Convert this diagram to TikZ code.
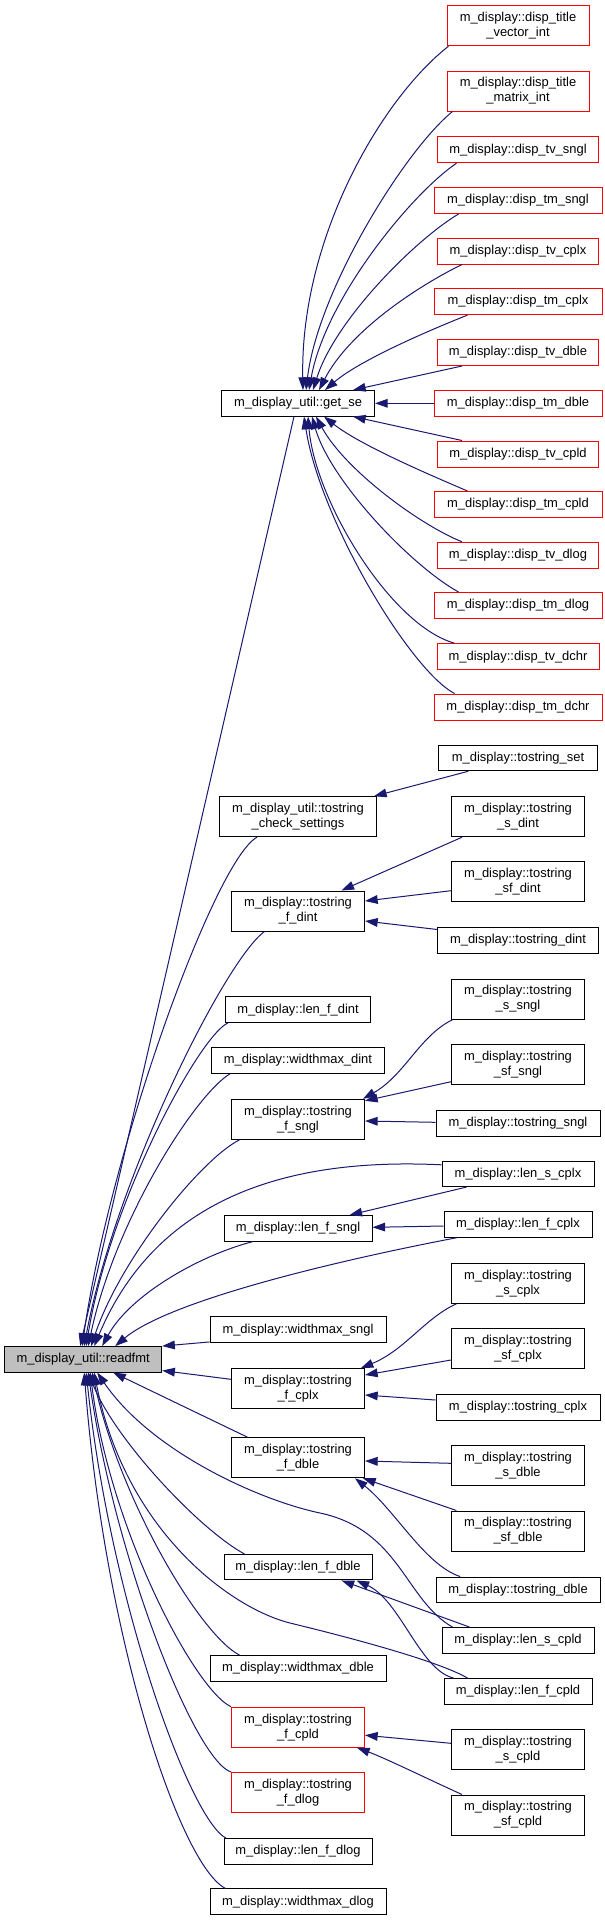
\documentclass[tikz,border=0pt]{standalone}
\usepackage{fontspec}
\newfontfamily\dfont{Liberation Sans}
\usetikzlibrary{arrows.meta,calc}
\definecolor{edgecol}{HTML}{191970}
\tikzset{
  bx/.style={draw=black, line width=0.75pt, fill=white, inner sep=0pt, align=center, text=black, font={\dfont\fontsize{9.7}{11.25}\selectfont}},
  rbx/.style={bx, draw=red},
  gbx/.style={bx, fill=gray!50},
  sz/.style 2 args={minimum width=#1*0.75pt, minimum height=#2*0.75pt},
  ed/.style={draw=edgecol, line width=0.75pt, -{Triangle[length=9.5pt,width=6.5pt]}}
}
\begin{document}
\begin{tikzpicture}[x=0.75pt,y=-0.75pt]
\useasboundingbox (0,0) rectangle (604,1921);
\fill[white] (0,0) rectangle (604,1921);
% right column: disp
\node[rbx,sz={142}{40}] (d1) at (518,25.7) {m\_display::disp\_title\\\_vector\_int};
\node[rbx,sz={142}{40}] (d2) at (518,91) {m\_display::disp\_title\\\_matrix\_int};
\node[rbx,sz={161}{26}] (d3) at (518,149.7) {m\_display::disp\_tv\_sngl};
\node[rbx,sz={168}{26}] (d4) at (518,200.5) {m\_display::disp\_tm\_sngl};
\node[rbx,sz={161}{26}] (d5) at (518,251) {m\_display::disp\_tv\_cplx};
\node[rbx,sz={168}{26}] (d6) at (518,301.6) {m\_display::disp\_tm\_cplx};
\node[rbx,sz={161}{26}] (d7) at (518,352.5) {m\_display::disp\_tv\_dble};
\node[rbx,sz={168}{26}] (d8) at (518,403.3) {m\_display::disp\_tm\_dble};
\node[rbx,sz={161}{26}] (d9) at (518,454) {m\_display::disp\_tv\_cpld};
\node[rbx,sz={168}{26}] (d10) at (518,504.5) {m\_display::disp\_tm\_cpld};
\node[rbx,sz={161}{26}] (d11) at (518,555.3) {m\_display::disp\_tv\_dlog};
\node[rbx,sz={168}{26}] (d12) at (518,605.5) {m\_display::disp\_tm\_dlog};
\node[rbx,sz={162}{26}] (d13) at (518,656.7) {m\_display::disp\_tv\_dchr};
\node[rbx,sz={168}{26}] (d14) at (518,707) {m\_display::disp\_tm\_dchr};
% main nodes
\node[bx,sz={153}{25.5}] (gs) at (298,403.3) {m\_display\_util::get\_se};
\node[gbx,sz={157}{25.5}] (rf) at (83.2,1359.3) {m\_display\_util::readfmt};
\node[bx,sz={158.4}{25.5}] (tset) at (518,758) {m\_display::tostring\_set};
\node[bx,sz={157}{40}] (chk) at (298,816.7) {m\_display\_util::tostring\\\_check\_settings};
\node[bx,sz={133}{40}] (sdint) at (518,816.7) {m\_display::tostring\\\_s\_dint};
\node[bx,sz={133}{40}] (sfdint) at (518,881.7) {m\_display::tostring\\\_sf\_dint};
\node[bx,sz={133}{40}] (fdint) at (298,911) {m\_display::tostring\\\_f\_dint};
\node[bx,sz={160.5}{25.5}] (dint) at (518,940.5) {m\_display::tostring\_dint};
\node[bx,sz={133}{40}] (ssngl) at (518,999) {m\_display::tostring\\\_s\_sngl};
\node[bx,sz={145}{25.5}] (lfdint) at (298,1009.7) {m\_display::len\_f\_dint};
\node[bx,sz={133}{40}] (sfsngl) at (518,1064.7) {m\_display::tostring\\\_sf\_sngl};
\node[bx,sz={173}{25.5}] (wdint) at (298,1060.5) {m\_display::widthmax\_dint};
\node[bx,sz={133}{40}] (fsngl) at (298,1119.3) {m\_display::tostring\\\_f\_sngl};
\node[bx,sz={164}{25.5}] (sngl) at (518,1123.3) {m\_display::tostring\_sngl};
\node[bx,sz={152}{25.5}] (lscplx) at (518,1173.8) {m\_display::len\_s\_cplx};
\node[bx,sz={148}{25.5}] (lfsngl) at (298,1228.3) {m\_display::len\_f\_sngl};
\node[bx,sz={148}{25.5}] (lfcplx) at (518,1224.5) {m\_display::len\_f\_cplx};
\node[bx,sz={133}{40}] (scplx) at (518,1283.3) {m\_display::tostring\\\_s\_cplx};
\node[bx,sz={176}{25.5}] (wsngl) at (298,1329.7) {m\_display::widthmax\_sngl};
\node[bx,sz={133}{40}] (sfcplx) at (518,1348.7) {m\_display::tostring\\\_sf\_cplx};
\node[bx,sz={133}{40}] (fcplx) at (298,1388.7) {m\_display::tostring\\\_f\_cplx};
\node[bx,sz={164}{25.5}] (cplx) at (518,1407.3) {m\_display::tostring\_cplx};
\node[bx,sz={133}{40}] (fdble) at (298,1457.7) {m\_display::tostring\\\_f\_dble};
\node[bx,sz={133}{40}] (sdble) at (518,1465.7) {m\_display::tostring\\\_s\_dble};
\node[bx,sz={133}{40}] (sfdble) at (518,1531) {m\_display::tostring\\\_sf\_dble};
\node[bx,sz={148}{25.5}] (lfdble) at (298,1567.2) {m\_display::len\_f\_dble};
\node[bx,sz={164}{25.5}] (dble) at (518,1589.8) {m\_display::tostring\_dble};
\node[bx,sz={152}{25.5}] (lscpld) at (518,1640.3) {m\_display::len\_s\_cpld};
\node[bx,sz={176}{25.5}] (wdble) at (298,1668.3) {m\_display::widthmax\_dble};
\node[bx,sz={148}{25.5}] (lfcpld) at (518,1691.3) {m\_display::len\_f\_cpld};
\node[rbx,sz={133}{40}] (fcpld) at (298,1727.2) {m\_display::tostring\\\_f\_cpld};
\node[bx,sz={133}{40}] (scpld) at (518,1749.7) {m\_display::tostring\\\_s\_cpld};
\node[rbx,sz={133}{40}] (fdlog) at (298,1792.5) {m\_display::tostring\\\_f\_dlog};
\node[bx,sz={133}{40}] (sfcpld) at (518,1815) {m\_display::tostring\\\_sf\_cpld};
\node[bx,sz={148}{25.5}] (lfdlog) at (298,1851.3) {m\_display::len\_f\_dlog};
\node[bx,sz={176}{25.5}] (wdlog) at (298,1901.7) {m\_display::widthmax\_dlog};
% edges into get_se
\draw[ed] ($(d1.south west)+(2,0)$) .. controls (380,100) and (300,240) .. ($(gs.north)+(5,0)$);
\draw[ed] ($(d2.south west)+(6,0)$) .. controls (405,150) and (318,290) .. ($(gs.north)+(8,0)$);
\draw[ed] ($(d3.south west)+(19.5,0)$) .. controls (410,195) and (325,300) .. ($(gs.north)+(11,0)$);
\draw[ed] ($(d4.south west)+(25,0)$) .. controls (415,240) and (335,320) .. ($(gs.north)+(15,0)$);
\draw[ed] ($(d5.south west)+(25,0)$) .. controls (420,285) and (350,330) .. ($(gs.north)+(21,0)$);
\draw[ed] ($(d6.south west)+(34,0)$) .. controls (430,330) and (360,360) .. ($(gs.north)+(27,0)$);
\draw[ed] ($(d7.south west)+(25,0)$) -- ($(gs.north east)+(-22,0)$);
\draw[ed] (d8) -- (gs);
\draw[ed] ($(d9.north west)+(25,0)$) -- ($(gs.south east)+(-22,0)$);
\draw[ed] ($(d10.north west)+(34,0)$) .. controls (430,475) and (360,445) .. ($(gs.south)+(26,0)$);
\draw[ed] ($(d11.north west)+(25,0)$) .. controls (420,525) and (345,470) .. ($(gs.south)+(18,0)$);
\draw[ed] ($(d12.north west)+(25,0)$) .. controls (410,565) and (330,480) .. ($(gs.south)+(14,0)$);
\draw[ed] ($(d13.north west)+(18,0)$) .. controls (390,625) and (315,500) .. ($(gs.south)+(10,0)$);
\draw[ed] ($(d14.north west)+(21,0)$) .. controls (410,670) and (320,520) .. ($(gs.south)+(6,0)$);
% edges into readfmt from above
\draw[ed] ($(gs.south)+(-4,0)$) -- ($(rf.north)+(-3,0)$);
\draw[ed] ($(chk.south west)+(38,0)$) .. controls (215,860) and (110,1150) .. ($(rf.north)+(-1,0)$);
\draw[ed] ($(fdint.south west)+(33.5,0)$) .. controls (225,960) and (115,1180) .. ($(rf.north)+(1,0)$);
\draw[ed] ($(lfdint.south west)+(3,0)$) .. controls (200,1035) and (110,1200) .. ($(rf.north)+(3,0)$);
\draw[ed] ($(wdint.south west)+(19,0)$) .. controls (195,1095) and (115,1220) .. ($(rf.north)+(5,0)$);
\draw[ed] ($(fsngl.south west)+(8.5,0)$) .. controls (200,1160) and (120,1260) .. ($(rf.north)+(8,0)$);
\draw[ed] ($(lscplx.west)+(0,-9)$) .. controls (300,1158) and (160,1190) .. ($(rf.north)+(11,0)$);
\draw[ed] ($(lfsngl.south west)+(29.6,0)$) .. controls (200,1255) and (130,1295) .. ($(rf.north)+(19,0)$);
\draw[ed] ($(lfcplx.south west)+(13,0)$) .. controls (340,1260) and (170,1300) .. ($(rf.north)+(32,0)$);
\draw[ed] ($(wsngl.south west)+(0,-1)$) -- (rf.north east);
% edges into readfmt from below
\draw[ed] ($(fcplx.west)+(0,-9.4)$) -- ($(rf.south east)+(0,-2)$);
\draw[ed] ($(fdble.north west)+(16.5,0)$) -- ($(rf.south)+(30,0)$);
\draw[ed] ($(lscpld.north west)+(11,0)$) .. controls (405,1600) and (400,1530) .. (320,1513) .. controls (256,1499.4) and (150,1450) .. ($(rf.south)+(14,0)$);
\draw[ed] ($(lfdble.north west)+(21,0)$) .. controls (200,1530) and (115,1440) .. ($(rf.south)+(5,0)$);
\draw[ed] ($(lfcpld.north west)+(24,0)$) .. controls (440,1662) and (360,1640) .. (290,1623) .. controls (230,1608) and (125,1530) .. ($(rf.south)+(11,0)$);
\draw[ed] ($(wdble.north west)+(30,0)$) .. controls (200,1635) and (120,1500) .. ($(rf.south)+(9,0)$);
\draw[ed] (fcpld.north west) .. controls (195,1690) and (110,1530) .. ($(rf.south)+(7,0)$);
\draw[ed] (fdlog.north west) .. controls (195,1760) and (115,1560) .. ($(rf.south)+(5,0)$);
\draw[ed] ($(lfdlog.north west)+(2.5,0)$) .. controls (190,1820) and (110,1600) .. ($(rf.south)+(3,0)$);
\draw[ed] ($(wdlog.north west)+(16,0)$) .. controls (180,1865) and (105,1640) .. ($(rf.south)+(1,0)$);
% secondary edges
\draw[ed] ($(tset.south west)+(30,0)$) -- ($(chk.north east)+(-3,0)$);
\draw[ed] ($(sdint.south west)+(11,0)$) -- ($(fdint.north east)+(-23.6,0)$);
\draw[ed] ($(sfdint.west)+(0,9)$) -- ($(fdint.east)+(0,-10)$);
\draw[ed] ($(dint.west)+(0,-11)$) -- ($(fdint.east)+(0,10)$);
\draw[ed] ($(ssngl.south west)+(2,0)$) .. controls (420,1035) and (405,1075) .. ($(fsngl.north east)+(-2,0)$);
\draw[ed] ($(sfsngl.west)+(0,17)$) -- ($(fsngl.north east)+(0,2)$);
\draw[ed] ($(sngl.west)+(0,-1)$) -- ($(fsngl.east)+(0,1.7)$);
\draw[ed] ($(lscplx.south west)+(25,0)$) -- ($(lfsngl.north east)+(-23,0)$);
\draw[ed] ($(lfcplx.west)+(0,1.5)$) -- ($(lfsngl.east)+(0,-1)$);
\draw[ed] ($(scplx.south west)+(5.4,0)$) .. controls (425,1318) and (405,1350) .. ($(fcplx.north east)+(-4.3,0)$);
\draw[ed] ($(sfcplx.west)+(0,11.3)$) -- ($(fcplx.east)+(0,-13.7)$);
\draw[ed] ($(cplx.west)+(0,-7.3)$) -- ($(fcplx.east)+(0,6.3)$);
\draw[ed] ($(sdble.west)+(0,-2.4)$) -- ($(fdble.east)+(0,3.3)$);
\draw[ed] ($(sfdble.north west)+(5.4,0)$) -- ($(fdble.south east)+(-2,0)$);
\draw[ed] ($(dble.north west)+(24.7,0)$) .. controls (425,1565) and (395,1510) .. ($(fdble.south east)+(-10,0)$);
\draw[ed] ($(lscpld.north west)+(28,0)$) -- ($(lfdble.south east)+(-31,0)$);
\draw[ed] ($(lfcpld.north west)+(10,0)$) .. controls (420,1670) and (400,1600) .. ($(lfdble.south east)+(-16,0)$);
\draw[ed] ($(scpld.west)+(0,-6.4)$) -- ($(fcpld.east)+(0,8)$);
\draw[ed] ($(sfcpld.north west)+(11,0)$) .. controls (430,1780) and (385,1758) .. ($(fcpld.south east)+(-8,0)$);
\end{tikzpicture}
\end{document}
